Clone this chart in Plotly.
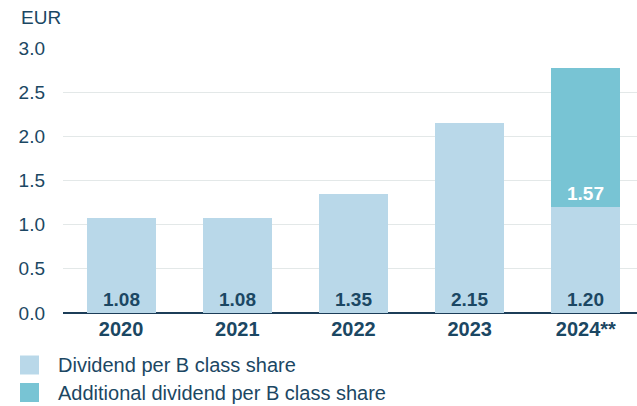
import plotly.graph_objects as go

# Dividend per B class share, EUR
years = ["2020", "2021", "2022", "2023", "2024**"]
dividend = [1.08, 1.08, 1.35, 2.15, 1.20]
extra_years = ["2024**"]
extra_dividend = [1.57]

y_ticks = [0.0, 0.5, 1.0, 1.5, 2.0, 2.5, 3.0]

SERIES = ["Dividend per B class share", "Additional dividend per B class share"]
LIGHT = "#b9d8e9"
TEAL = "#78c4d4"
NAVY = "#1b4763"
FONT = "Liberation Sans"

W, H = 637, 406
ML, MR, MT, MB = 63, 0, 48, 93
PW, PH = W - ML - MR, H - MT - MB


def px_x(px):
    return (px - ML) / PW


def px_y(py):
    return (H - MB - py) / PH


fig = go.Figure()
fig.add_trace(go.Bar(
    x=years, y=dividend, name=SERIES[0],
    marker=dict(color=LIGHT, line=dict(width=0)),
))
fig.add_trace(go.Bar(
    x=extra_years, y=extra_dividend, name=SERIES[1],
    marker=dict(color=TEAL, line=dict(width=0)),
))

# value labels sitting at the base of each segment
for i, v in enumerate(dividend):
    fig.add_annotation(x=i, y=0, text=f"<b>{v:.2f}</b>", showarrow=False,
                       yanchor="bottom", yshift=1,
                       font=dict(family=FONT, size=19, color=NAVY))
for x, v in zip(extra_years, extra_dividend):
    i = years.index(x)
    fig.add_annotation(x=i, y=dividend[i], text=f"<b>{v:.2f}</b>", showarrow=False,
                       yanchor="bottom", yshift=1,
                       font=dict(family=FONT, size=19, color="white"))

# unit label above the value axis
fig.add_annotation(xref="paper", yref="paper", x=px_x(19), y=px_y(17.5),
                   xanchor="left", yanchor="middle", text="EUR", showarrow=False,
                   font=dict(family=FONT, size=19, color=NAVY))

# legend: colour swatches with their series names
for k, (name, col) in enumerate(zip(SERIES, [LIGHT, TEAL])):
    cy = 365 + k * 27.5
    fig.add_shape(type="rect", xref="paper", yref="paper",
                  x0=px_x(20), x1=px_x(39), y0=px_y(cy + 9.5), y1=px_y(cy - 9.5),
                  fillcolor=col, line=dict(width=0))
    fig.add_annotation(xref="paper", yref="paper", x=px_x(56), y=px_y(cy),
                       xanchor="left", yanchor="middle", text=name, showarrow=False,
                       font=dict(family=FONT, size=20, color=NAVY))

fig.update_layout(
    width=W, height=H,
    margin=dict(l=ML, r=MR, t=MT, b=MB),
    paper_bgcolor="white", plot_bgcolor="white",
    barmode="stack", bargap=0.406,
    font=dict(family=FONT, color=NAVY),
    showlegend=False,
)
fig.update_xaxes(
    type="category", range=[-0.5, 4.44],
    showgrid=False, showline=False, ticks="", ticklabelstandoff=2,
    tickfont=dict(family=FONT, size=20, color=NAVY, weight="bold"),
)
fig.update_yaxes(
    range=[0, 3.0], tickvals=y_ticks, ticktext=[f"{t:.1f}" for t in y_ticks],
    showgrid=True, gridcolor="#e3e8e8", gridwidth=1,
    zeroline=True, zerolinecolor="#1c3d58", zerolinewidth=2,
    showline=False, ticks="", ticklabelstandoff=17,
    tickfont=dict(family=FONT, size=19, color=NAVY),
)

fig.write_html("out.html")
